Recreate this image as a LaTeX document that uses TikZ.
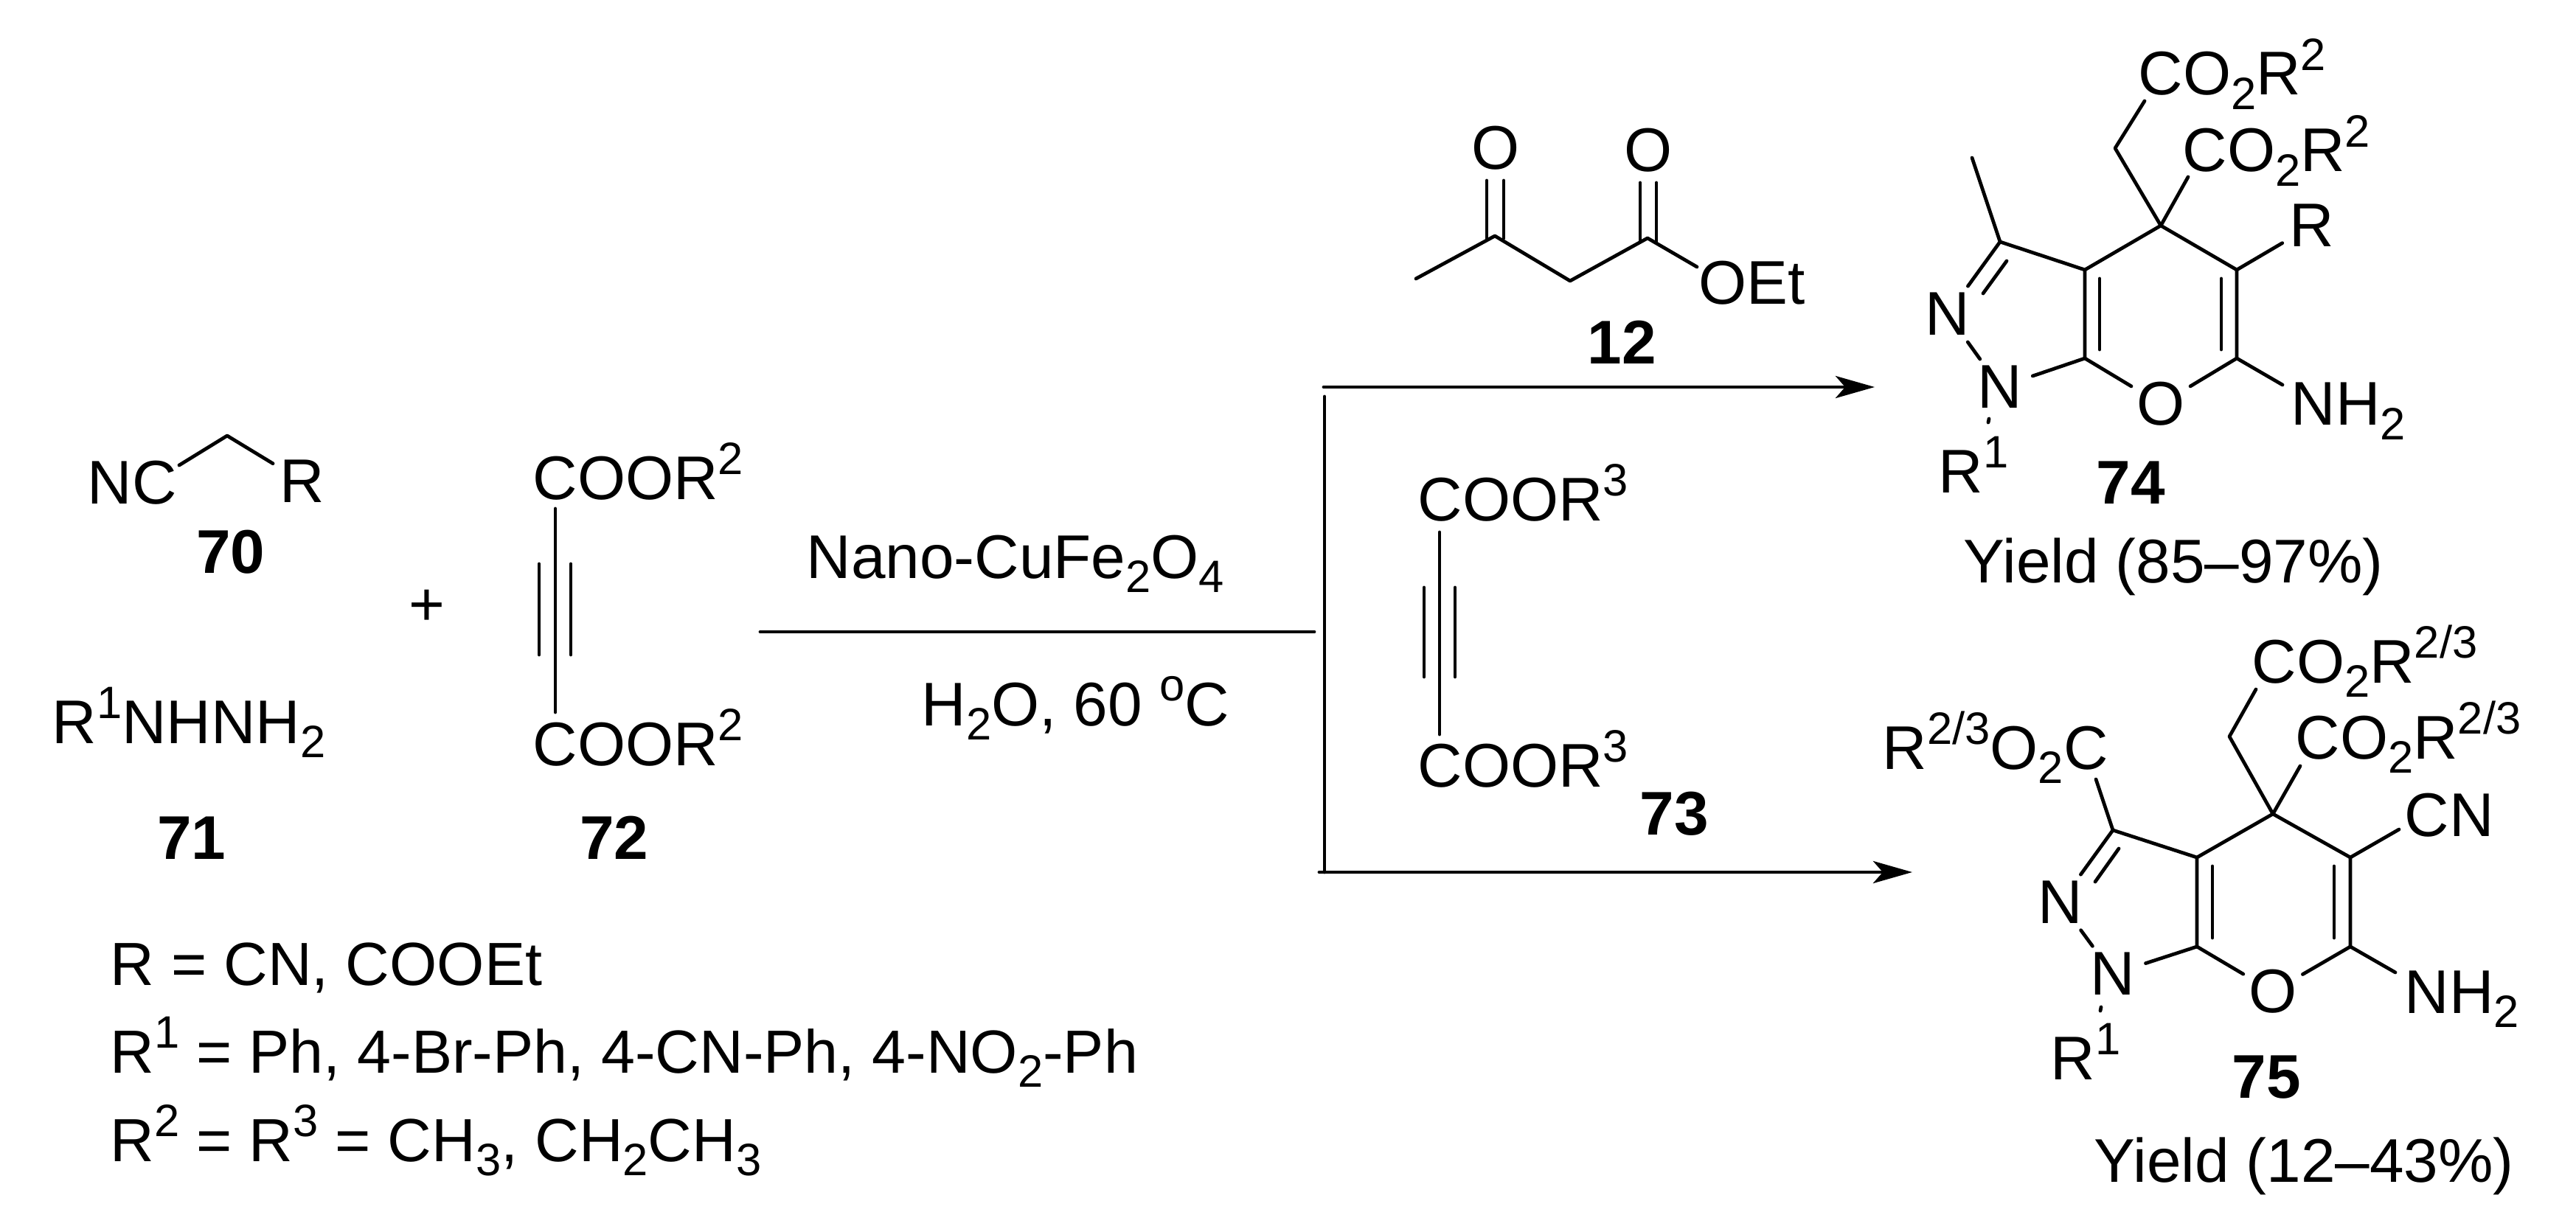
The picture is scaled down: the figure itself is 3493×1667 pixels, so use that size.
\documentclass[tikz,border=0pt]{standalone}
\usepackage{fontspec}
\setmainfont{Liberation Sans}
\usetikzlibrary{arrows.meta}
\newcommand{\chemsub}[1]{\raisebox{-.23em}{\fontsize{17.5pt}{17.5pt}\selectfont #1}}
\newcommand{\chemsup}[1]{\raisebox{.4em}{\fontsize{17.5pt}{17.5pt}\selectfont #1}}
\tikzset{
  every node/.style={font=\fontsize{23.8pt}{23.8pt}\selectfont},
  lbl/.style={anchor=base west,inner sep=0},
  deflbl/.style={lbl,font=\fontsize{23.5pt}{23.5pt}\selectfont},
  num/.style={anchor=base,inner sep=0,font=\fontsize{23.8pt}{23.8pt}\selectfont\bfseries},
  atom/.style={circle,inner sep=0,minimum size=.92cm},
  bond/.style={line width=1.35pt,line cap=round,line join=round},
  rxn/.style={line width=1.4pt,line cap=round},
  rxnarrow/.style={rxn,-{Stealth[length=.53cm,width=.30cm,inset=.13cm]}}
}
\begin{document}
\begin{tikzpicture}[x=.01cm,y=-.01cm]
\useasboundingbox (0,0) rectangle (3493,1667);
% left reactants
\node[lbl] (nc) at (118,683) {NC};
\node[atom] (r70) at (410,653) {R};
\coordinate (nca) at (243,631);
\coordinate (ch70) at (308,591);
\draw[bond] (nca) -- (ch70) -- (r70);
\node[num] (n70) at (313,777) {70};
\node[lbl] (hyd) at (70,1008) {R\chemsup{1}NHNH\chemsub{2}};
\node[num] (n71) at (260,1165) {71};
\node (plus) at (579,824) {+};
\node[lbl] (ea) at (722,677) {COOR\chemsup{2}};
\node[lbl] (eb) at (722,1038) {COOR\chemsup{2}};
\node[num] (n72) at (833,1165) {72};
\coordinate (t72a) at (753,690);
\coordinate (t72b) at (753,966);
\coordinate (t72c) at (731,765);
\coordinate (t72d) at (731,888);
\coordinate (t72e) at (774,765);
\coordinate (t72f) at (774,888);
\draw[bond] (t72a) -- (t72b);
\draw[bond] (t72c) -- (t72d);
\draw[bond] (t72e) -- (t72f);
\node[lbl] (cond1) at (1093,784) {Nano-CuFe\chemsub{2}O\chemsub{4}};
\node[lbl] (cond2) at (1249,984) {H\chemsub{2}O, 60 \chemsup{o}C};
\node[deflbl] (defa) at (149,1336) {R = CN, COOEt};
\node[deflbl] (defb) at (149,1455) {R\chemsup{1} = Ph, 4-Br-Ph, 4-CN-Ph, 4-NO\chemsub{2}-Ph};
\node[deflbl] (defc) at (149,1575) {R\chemsup{2} = R\chemsup{3} = CH\chemsub{3}, CH\chemsub{2}CH\chemsub{3}};
% reaction lines
\coordinate (ina) at (1031,857);
\coordinate (inb) at (1782,857);
\coordinate (vta) at (1796,538);
\coordinate (vtb) at (1796,1183);
\coordinate (upa) at (1795,525);
\coordinate (upb) at (2542,525);
\coordinate (loa) at (1789,1183);
\coordinate (lob) at (2593,1183);
\draw[rxn] (ina) -- (inb);
\draw[rxn] (vta) -- (vtb);
\draw[rxnarrow] (upa) -- (upb);
\draw[rxnarrow] (loa) -- (lob);
% 12
\node[atom] (oa12) at (2028,201) {O};
\node[atom] (ob12) at (2235,204) {O};
\node[lbl] (oet) at (2303,413) {OEt};
\node[num] (n12) at (2199,494) {12};
\coordinate (me12) at (1920,378);
\coordinate (ca12) at (2027,320);
\coordinate (ch12) at (2129,381);
\coordinate (cb12) at (2234,323);
\coordinate (oe12) at (2301,362);
\coordinate (d1a) at (2016,245);
\coordinate (d1b) at (2016,323);
\coordinate (d2a) at (2039,245);
\coordinate (d2b) at (2039,323);
\coordinate (d3a) at (2224,248);
\coordinate (d3b) at (2224,327);
\coordinate (d4a) at (2246,248);
\coordinate (d4b) at (2246,327);
\draw[bond] (me12) -- (ca12) -- (ch12) -- (cb12) -- (oe12);
\draw[bond] (d1a) -- (d1b);
\draw[bond] (d2a) -- (d2b);
\draw[bond] (d3a) -- (d3b);
\draw[bond] (d4a) -- (d4b);
% 73
\node[lbl] (ec) at (1922,706) {COOR\chemsup{3}};
\node[lbl] (ed) at (1922,1067) {COOR\chemsup{3}};
\node[num] (n73) at (2270,1132) {73};
\coordinate (t73a) at (1952,722);
\coordinate (t73b) at (1952,996);
\coordinate (t73c) at (1931,797);
\coordinate (t73d) at (1931,918);
\coordinate (t73e) at (1973,797);
\coordinate (t73f) at (1973,918);
\draw[bond] (t73a) -- (t73b);
\draw[bond] (t73c) -- (t73d);
\draw[bond] (t73e) -- (t73f);
% 74
\coordinate (c4) at (2930,306);
\coordinate (c3a) at (2827,366);
\coordinate (c7a) at (2827,486);
\coordinate (c5) at (3033,366);
\coordinate (c6) at (3033,486);
\coordinate (c3) at (2712,328);
\coordinate (me) at (2674,214);
\coordinate (ch2) at (2868,201);
\coordinate (esa) at (2908,137);
\coordinate (esb) at (2967,240);
\coordinate (nha) at (3095,522);
\coordinate (ia) at (2847,378);
\coordinate (ib) at (2847,474);
\coordinate (ic) at (3012,378);
\coordinate (id) at (3012,474);
\coordinate (ie) at (2721,354);
\coordinate (if) at (2689,398);
\coordinate (ra) at (2697,568);
\coordinate (rb) at (2696,573);
\node[atom] (o1) at (2930,548) {O};
\node[atom] (n1) at (2712,525) {N};
\node[atom] (n2) at (2641,426) {N};
\node[atom] (r) at (3135,306) {R};
\node[lbl] (coa) at (2899,129) {CO\chemsub{2}R\chemsup{2}};
\node[lbl] (cob) at (2959,233) {CO\chemsub{2}R\chemsup{2}};
\node[lbl] (nh) at (3106,577) {NH\chemsub{2}};
\node[lbl] (ra1) at (2628,668) {R\chemsup{1}};
\node[num] (n74) at (2889,683) {74};
\node[lbl] (ya) at (2662,790) {Yield (85--97\%)};
\draw[bond] (c3) -- (c3a) -- (c4) -- (c5) -- (c6) -- (o1) -- (c7a) -- (c3a);
\draw[bond] (c5) -- (r);
\draw[bond] (c6) -- (nha);
\draw[bond] (c7a) -- (n1) -- (n2) -- (c3) -- (me);
\draw[bond] (c4) -- (ch2) -- (esa);
\draw[bond] (c4) -- (esb);
\draw[bond] (ia) -- (ib);
\draw[bond] (ic) -- (id);
\draw[bond] (ie) -- (if);
\draw[bond] (ra) -- (rb);
% 75
\coordinate (pc4) at (3082,1104);
\coordinate (pc3a) at (2979,1163);
\coordinate (pc7a) at (2979,1284);
\coordinate (pc5) at (3187,1163);
\coordinate (pc6) at (3187,1284);
\coordinate (pc3) at (2865,1126);
\coordinate (pes) at (2842,1057);
\coordinate (pch2) at (3023,999);
\coordinate (pesa) at (3059,935);
\coordinate (pesb) at (3119,1039);
\coordinate (pcn) at (3253,1125);
\coordinate (pnha) at (3248,1319);
\coordinate (pia) at (3000,1175);
\coordinate (pib) at (3000,1272);
\coordinate (pic) at (3165,1175);
\coordinate (pid) at (3165,1272);
\coordinate (pie) at (2873,1151);
\coordinate (pif) at (2841,1196);
\coordinate (pra) at (2849,1366);
\coordinate (prb) at (2848,1371);
\node[atom] (po1) at (3082,1345) {O};
\node[atom] (pn1) at (2865,1321) {N};
\node[atom] (pn2) at (2794,1224) {N};
\node[lbl] (pcoa) at (3053,926) {CO\chemsub{2}R\chemsup{2/3}};
\node[lbl] (pcob) at (3112,1029) {CO\chemsub{2}R\chemsup{2/3}};
\node[lbl] (pcoc) at (2552,1043) {R\chemsup{2/3}O\chemsub{2}C};
\node[lbl] (pcnl) at (3260,1134) {CN};
\node[lbl] (pnh) at (3260,1374) {NH\chemsub{2}};
\node[lbl] (pra1) at (2780,1464) {R\chemsup{1}};
\node[num] (n75) at (3073,1489) {75};
\node[lbl] (yb) at (2839,1603) {Yield (12--43\%)};
\draw[bond] (pc3) -- (pc3a) -- (pc4) -- (pc5) -- (pc6) -- (po1) -- (pc7a) -- (pc3a);
\draw[bond] (pc5) -- (pcn);
\draw[bond] (pc6) -- (pnha);
\draw[bond] (pc7a) -- (pn1) -- (pn2) -- (pc3) -- (pes);
\draw[bond] (pc4) -- (pch2) -- (pesa);
\draw[bond] (pc4) -- (pesb);
\draw[bond] (pia) -- (pib);
\draw[bond] (pic) -- (pid);
\draw[bond] (pie) -- (pif);
\draw[bond] (pra) -- (prb);
\end{tikzpicture}
\end{document}
